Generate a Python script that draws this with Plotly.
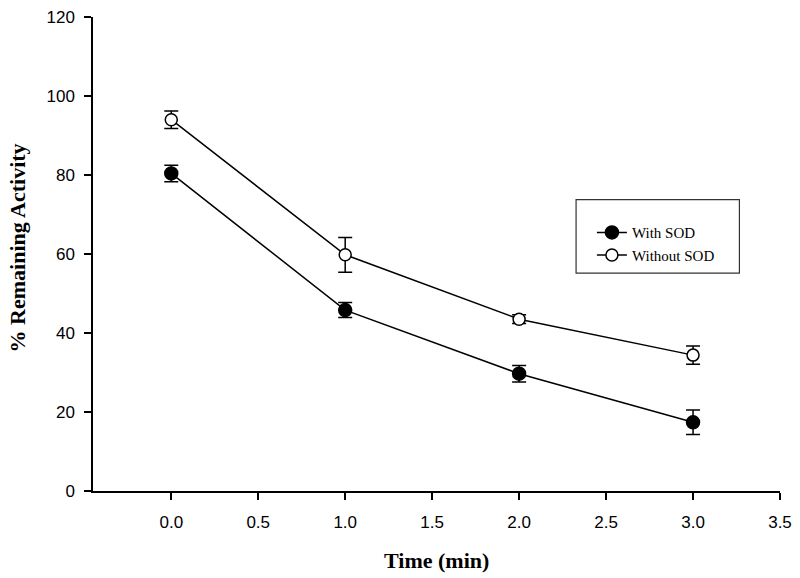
import plotly.graph_objects as go

time_min = [0.0, 1.0, 2.0, 3.0]
with_sod = [80.4, 45.8, 29.7, 17.4]
with_sod_err = [2.1, 1.9, 2.1, 3.1]
without_sod = [94.0, 59.8, 43.5, 34.4]
without_sod_err = [2.2, 4.4, 1.1, 2.3]

x_ticks = [0.0, 0.5, 1.0, 1.5, 2.0, 2.5, 3.0, 3.5]
y_ticks = [0, 20, 40, 60, 80, 100, 120]

W, H = 800, 578
ML, MR, MT, MB = 93, 13, 8, 87
PW, PH = W - ML - MR, H - MT - MB

def px2x(px):
    return (px - ML) / PW

def py2y(py):
    return (H - MB - py) / PH

fig = go.Figure()
fig.add_trace(go.Scatter(
    x=time_min, y=with_sod, name="With SOD", mode="lines+markers",
    line=dict(color="black", width=1.5),
    marker=dict(symbol="circle", size=13, color="black", line=dict(color="black", width=1.5)),
    error_y=dict(type="data", array=with_sod_err, visible=True, color="black", thickness=1.5, width=7),
))
fig.add_trace(go.Scatter(
    x=time_min, y=without_sod, name="Without SOD", mode="lines+markers",
    line=dict(color="black", width=1.5),
    marker=dict(symbol="circle", size=12, color="white", line=dict(color="black", width=1.5)),
    error_y=dict(type="data", array=without_sod_err, visible=True, color="black", thickness=1.5, width=7),
))

axis_common = dict(
    showline=True, linecolor="black", linewidth=1.5,
    ticks="outside", ticklen=7, tickwidth=1.5, tickcolor="black",
    showgrid=False, zeroline=False, ticklabeloverflow="allow",
    tickfont=dict(family="Liberation Sans, Arial", size=17, color="black"),
)
fig.update_xaxes(range=[-0.45, 3.5], tickvals=x_ticks,
                 ticktext=[f"{v:.1f}" for v in x_ticks], ticklabelstandoff=8, **axis_common)
fig.update_yaxes(range=[0, 120], tickvals=y_ticks, ticklabelstandoff=6, **axis_common)

fig.add_shape(type="rect", xref="paper", yref="paper",
              x0=px2x(581), x1=px2x(746), y0=py2y(269), y1=py2y(194),
              line=dict(color="#333333", width=1.2), fillcolor="rgba(0,0,0,0)")

fig.add_annotation(text="<b>Time (min)</b>", xref="paper", yref="paper",
                   x=0.5, y=py2y(562), xanchor="center", yanchor="middle", showarrow=False,
                   font=dict(family="Liberation Serif, Times New Roman", size=22, color="black"))
fig.add_annotation(text="<b>% Remaining Activity</b>", xref="paper", yref="paper",
                   x=px2x(17), y=py2y(243), xanchor="center", yanchor="middle", showarrow=False,
                   textangle=-90,
                   font=dict(family="Liberation Serif, Times New Roman", size=22, color="black"))

fig.update_layout(
    width=W, height=H,
    margin=dict(l=ML, r=MR, t=MT, b=MB),
    plot_bgcolor="white", paper_bgcolor="white",
    showlegend=True,
    legend=dict(x=px2x(597), y=py2y(211), xanchor="left", yanchor="top",
                bgcolor="rgba(0,0,0,0)", borderwidth=0, tracegroupgap=0,
                font=dict(family="Liberation Serif, Times New Roman", size=15, color="black")),
)

fig.write_html("out.html", config={"displayModeBar": False},
               post_script="document.body.style.margin='0';document.body.style.overflow='hidden';")
